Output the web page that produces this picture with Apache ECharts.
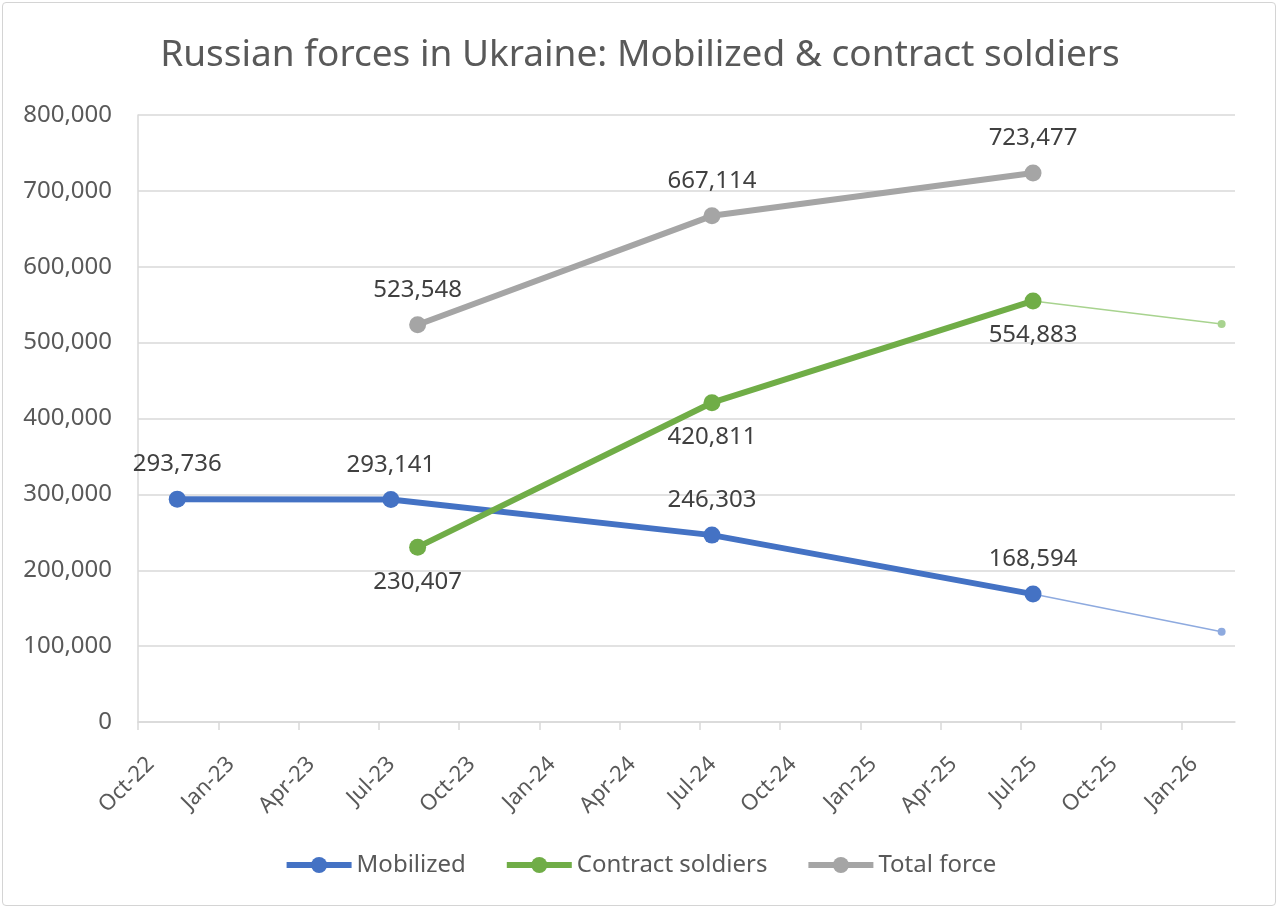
<!DOCTYPE html>
<html>
<head>
<meta charset="utf-8">
<title>Russian forces in Ukraine</title>
<script src="https://cdn.jsdelivr.net/npm/echarts@6/dist/echarts.min.js"></script>
<style>
    html, body { margin: 0; padding: 0; background: #fff; }
    #frame {
        position: absolute; left: 2px; top: 2px; width: 1272px; height: 902px;
        border: 1px solid #d4d4d4; border-radius: 4px;
    }
    #main { position: absolute; left: 0; top: 0; width: 1280px; height: 910px; }
</style>
</head>
<body>
<div id="frame"></div>
<div id="main"></div>
<script>
// 数据
var tickLabels = ['Oct-22', 'Jan-23', 'Apr-23', 'Jul-23', 'Oct-23', 'Jan-24', 'Apr-24',
    'Jul-24', 'Oct-24', 'Jan-25', 'Apr-25', 'Jul-25', 'Oct-25', 'Jan-26'];

var mobilizedDates = ['2022-11-15', '2023-07-15', '2024-07-15', '2025-07-15'];
var mobilized = [293736, 293141, 246303, 168594];

var contractDates = ['2023-08-15', '2024-07-15', '2025-07-15'];
var contract = [230407, 420811, 554883];
var total = [523548, 667114, 723477];

// thin projection to early 2026
var projectionDates = ['2025-07-15', '2026-02-15'];
var mobilizedProjection = [168594, 119000];
var contractProjection = [554883, 524500];

var fontFamily = '"Noto Sans", "Open Sans", sans-serif';

// months since 1 Oct 2022
function monthIndex(s) {
    var p = s.split('-');
    var y = +p[0], m = +p[1], d = +p[2];
    var days = new Date(y, m, 0).getDate();
    return (y - 2022) * 12 + (m - 10) + (d - 1) / days;
}

function pairs(dates, values) {
    return dates.map(function (d, i) { return [monthIndex(d), values[i]]; });
}

function fmt(v) {
    return Number(v).toLocaleString('en-US');
}

function mainSeries(name, color, dates, values, labelPos) {
    return {
        name: name,
        type: 'line',
        data: pairs(dates, values),
        symbol: 'circle',
        symbolSize: 17,
        lineStyle: { width: 6, color: color },
        itemStyle: { color: color },
        label: {
            show: true,
            position: labelPos,
            distance: 14,
            fontSize: 24,
            color: '#404040',
            fontFamily: fontFamily,
            formatter: function (p) { return fmt(p.value[1]); }
        },
        z: 3
    };
}

function projSeries(name, color, dates, values) {
    return {
        name: name,
        type: 'line',
        data: pairs(dates, values),
        symbol: 'circle',
        symbolSize: 8,
        showSymbol: true,
        lineStyle: { width: 1.5, color: color },
        itemStyle: { color: color },
        label: { show: false },
        z: 2
    };
}

var myChart = echarts.init(document.getElementById('main'));

myChart.setOption({
    animation: false,
    textStyle: { fontFamily: fontFamily },
    title: {
        text: 'Russian forces in Ukraine: Mobilized & contract soldiers',
        left: 'center',
        top: 32,
        textStyle: { fontSize: 37, fontWeight: 'normal', color: '#595959', fontFamily: fontFamily }
    },
    grid: {
        left: 138,
        right: 45,
        top: 115,
        bottom: 188
    },
    legend: {
        data: ['Mobilized', 'Contract soldiers', 'Total force'],
        left: 'center',
        top: 848,
        itemWidth: 65,
        itemHeight: 20,
        itemGap: 38,
        lineStyle: { width: 6 },
        textStyle: { fontSize: 24, color: '#595959', fontFamily: fontFamily }
    },
    xAxis: {
        type: 'value',
        min: 0,
        max: 41,
        interval: 3,
        splitLine: { show: false },
        axisLine: { lineStyle: { color: '#d9d9d9', width: 1.5 } },
        axisTick: { show: true, length: 8, lineStyle: { color: '#d9d9d9', width: 1.5 } },
        axisLabel: {
            rotate: 45,
            margin: 26,
            fontSize: 22,
            lineHeight: 36,
            verticalAlign: 'top',
            color: '#595959',
            showMaxLabel: false,
            formatter: function (v) {
                if (v % 3 !== 0) return '';
                return tickLabels[v / 3] || '';
            }
        }
    },
    yAxis: {
        type: 'value',
        min: 0,
        max: 800000,
        interval: 100000,
        axisLine: { show: true, lineStyle: { color: '#d9d9d9', width: 1.5 } },
        axisTick: { show: false },
        splitLine: { lineStyle: { color: '#d9d9d9', width: 1.5 } },
        axisLabel: {
            margin: 26,
            fontSize: 24,
            color: '#595959',
            formatter: function (v) { return fmt(v); }
        }
    },
    series: [
        projSeries('Mobilized trend', '#8eaadf', projectionDates, mobilizedProjection),
        projSeries('Contract trend', '#a8d38f', projectionDates, contractProjection),
        mainSeries('Mobilized', '#4472C4', mobilizedDates, mobilized, 'top'),
        mainSeries('Contract soldiers', '#70AD47', contractDates, contract, 'bottom'),
        mainSeries('Total force', '#A5A5A5', contractDates, total, 'top')
    ]
});
</script>
</body>
</html>
